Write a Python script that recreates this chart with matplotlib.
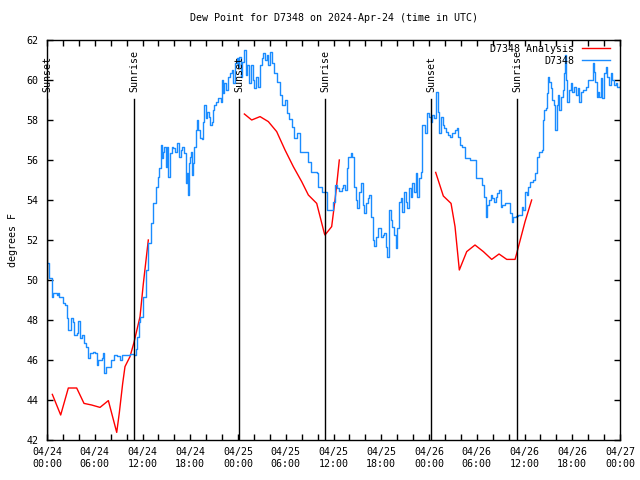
import matplotlib
matplotlib.use("Agg")
import matplotlib.pyplot as plt
import matplotlib.dates as mdates
import pandas as pd

# --------------------------------------------------
# DATA (hours after 2024-04-24 00:00 UTC, degrees F)
# --------------------------------------------------

start = pd.Timestamp("2024-04-24 00:00")

station_hours = [
    0.0, 0.29, 0.59, 0.71, 1.22, 1.43, 1.55, 1.97, 2.26, 2.47, 2.68, 2.97,
    3.22, 3.43, 3.73, 3.94, 4.15, 4.44, 4.65, 4.86, 5.11, 5.4, 5.74, 6.03,
    6.24, 6.45, 6.87, 7.0, 7.2, 7.41, 7.71, 8.0, 8.42, 8.84, 9.17, 9.38,
    9.93, 10.43, 10.93, 11.14, 11.35, 11.52, 11.69, 12.02, 12.44, 12.73,
    13.03, 13.36, 13.66, 13.91, 14.12, 14.33, 14.49, 14.62, 14.75, 14.91,
    15.04, 15.25, 15.46, 15.67, 15.87, 16.08, 16.29, 16.5, 16.63, 16.83,
    17.0, 17.21, 17.42, 17.54, 17.67, 17.83, 17.96, 18.08, 18.26, 18.38,
    18.51, 18.68, 18.81, 19.01, 19.23, 19.52, 19.64, 19.77, 19.94, 20.15,
    20.36, 20.48, 20.69, 20.9, 21.02, 21.2, 21.53, 21.82, 21.99, 22.07,
    22.28, 22.49, 22.7, 22.99, 23.2, 23.41, 23.62, 23.83, 24.04, 24.13,
    24.38, 24.54, 24.8, 24.97, 25.18, 25.38, 25.63, 25.84, 26.05, 26.26,
    26.47, 26.77, 26.98, 27.19, 27.4, 27.61, 27.82, 28.06, 28.31, 28.57,
    28.86, 29.28, 29.57, 29.91, 30.11, 30.45, 30.82, 31.08, 31.37, 31.79,
    32.4, 32.84, 33.17, 33.89, 34.1, 34.52, 34.93, 35.23, 35.56, 35.9,
    36.19, 36.48, 36.73, 37.02, 37.23, 37.44, 37.66, 37.86, 38.2, 38.37,
    38.58, 38.79, 38.99, 39.25, 39.46, 39.67, 39.88, 40.09, 40.3, 40.51,
    40.71, 40.93, 41.13, 41.34, 41.56, 41.77, 41.98, 42.19, 42.4, 42.6,
    42.77, 42.97, 43.18, 43.39, 43.6, 43.81, 44.02, 44.23, 44.44, 44.65,
    44.86, 45.07, 45.28, 45.49, 45.7, 45.91, 46.12, 46.33, 46.53, 46.74,
    46.96, 47.12, 47.5, 47.71, 48.0, 48.25, 48.42, 48.67, 48.88, 49.09,
    49.3, 49.5, 49.72, 49.93, 50.14, 50.43, 50.64, 50.93, 51.27, 51.48,
    51.69, 51.9, 52.19, 52.53, 52.82, 53.15, 53.57, 53.87, 54.33, 54.62,
    54.92, 55.13, 55.33, 55.54, 55.75, 55.96, 56.17, 56.38, 56.59, 56.8,
    57.01, 57.22, 57.55, 57.97, 58.18, 58.39, 58.6, 58.9, 59.23, 59.52,
    59.73, 59.86, 60.07, 60.28, 60.49, 60.7, 61.03, 61.32, 61.53, 61.87,
    62.16, 62.29, 62.45, 62.7, 62.87, 62.99, 63.12, 63.29, 63.5, 63.75,
    63.87, 64.04, 64.25, 64.37, 64.58, 64.79, 64.96, 65.09, 65.21, 65.38,
    65.59, 65.8, 66.01, 66.22, 66.47, 66.68, 66.89, 67.1, 67.4, 67.73,
    68.02, 68.32, 68.57, 68.74, 68.91, 69.07, 69.2, 69.37, 69.58, 69.79,
    70.0, 70.21, 70.42, 70.63, 70.84, 71.05, 71.25, 71.5, 71.67, 72.0,
]

station_dewpoint = [
    50.85, 50.08, 49.17, 49.33, 49.25, 49.33, 49.17, 48.83, 48.75, 48.08, 47.5, 48.08,
    47.92, 47.25, 47.33, 47.97, 47.08, 47.25, 46.83, 46.67, 46.08, 46.33, 46.42, 46.33,
    45.75, 46.0, 46.08, 46.33, 45.33, 45.67, 45.67, 46.0, 46.25, 46.2, 46.0, 46.25,
    46.25, 46.28, 46.25, 46.57, 47.17, 47.92, 48.17, 49.17, 50.5, 51.83,
    52.83, 53.83, 54.67, 55.17, 55.58, 56.75, 56.08, 56.42, 56.67, 55.67,
    56.67, 55.17, 56.33, 56.67, 56.58, 56.42, 56.83, 56.83, 56.17, 56.5,
    56.67, 56.33, 54.83, 55.33, 54.25, 55.83, 56.17, 56.42, 55.25, 55.83,
    56.67, 57.5, 58.0, 57.5, 57.08, 57.03, 57.92, 58.75, 58.08, 58.42,
    58.17, 57.75, 57.92, 58.5, 58.75, 58.92, 59.08, 58.92, 60.0, 59.33,
    59.83, 59.5, 60.17, 60.33, 60.5, 59.83, 60.83, 61.08, 60.67, 61.17,
    60.17, 60.92, 61.5, 60.25, 60.75, 59.83, 60.75, 60.0, 59.58, 60.17,
    59.67, 60.75, 61.08, 61.33, 61.0, 61.25, 60.75, 61.42, 60.83, 60.33,
    59.92, 59.25, 58.75, 59.0, 58.33, 58.03, 57.67, 57.08, 57.33, 56.42,
    56.42, 55.92, 55.42, 55.33, 54.67, 54.42, 54.42, 53.5, 53.5, 53.92,
    54.75, 54.58, 54.47, 54.58, 54.75, 54.5, 55.58, 56.17, 56.33, 56.17,
    54.67, 54.0, 53.58, 54.42, 54.83, 53.75, 53.33, 53.83, 54.08, 54.25,
    53.17, 52.0, 51.7, 52.17, 52.58, 52.58, 52.17, 52.25, 52.33, 51.67,
    51.17, 53.5, 53.0, 52.67, 52.25, 51.58, 52.58, 53.92, 54.08, 53.42,
    54.42, 53.92, 53.58, 54.58, 54.17, 54.83, 54.42, 55.33, 54.17, 55.08,
    55.42, 57.75, 57.33, 58.33, 58.17, 57.92, 58.25, 58.08, 59.42, 58.42,
    57.33, 58.17, 57.75, 57.58, 57.42, 57.25, 57.17, 57.33, 57.5, 57.58,
    57.17, 56.75, 56.67, 56.08, 56.08, 56.0, 56.0, 55.08, 55.08, 54.75,
    54.17, 53.17, 53.75, 54.0, 54.25, 54.08, 53.92, 54.17, 54.33, 54.5,
    53.67, 53.75, 53.83, 53.83, 53.33, 52.92, 53.17, 53.2, 53.25, 53.25,
    53.67, 53.5, 54.42, 54.25, 54.67, 54.92, 55.0, 55.33, 56.17, 56.42,
    56.5, 58.0, 58.5, 58.58, 59.33, 60.17, 59.92, 59.58, 59.0, 58.75,
    57.5, 58.75, 59.25, 58.5, 59.17, 59.5, 60.33, 61.25, 60.0, 58.92,
    59.5, 59.83, 59.42, 59.67, 59.25, 59.58, 58.92, 59.42, 59.5, 59.67,
    60.0, 60.0, 60.83, 60.42, 59.92, 59.17, 59.42, 59.17, 60.08, 59.08,
    60.33, 60.67, 60.17, 59.75, 60.33, 60.0, 59.75, 59.83, 59.67, 59.7,
]

# analysis runs in three separate pieces
analysis_hours = [
    [0.67, 1.72, 2.68, 3.73, 4.65, 5.61, 6.66, 7.71, 8.76, 9.09, 9.51,
     9.80, 10.43, 10.93, 11.69, 12.1, 12.73],
    [24.8, 25.72, 26.77, 27.81, 28.86, 29.91, 30.95, 32.0, 32.84, 33.89,
     34.85, 34.93, 35.77, 36.19, 36.4, 36.73],
    [48.84, 49.8, 50.77, 51.27, 51.81, 52.74, 53.78, 54.83, 55.88, 56.8,
     57.77, 58.81, 59.02, 60.07, 60.9],
]

analysis_dewpoint = [
    [44.28, 43.25, 44.6, 44.6, 43.83, 43.75, 43.63, 43.97, 42.38, 43.37,
     44.83, 45.67, 46.17, 46.88, 48.17, 49.8, 52.0],
    [58.3, 58.0, 58.17, 57.92, 57.42, 56.5, 55.67, 54.92, 54.25, 53.83,
     52.33, 52.25, 52.67, 54.0, 54.75, 56.0],
    [55.38, 54.2, 53.83, 52.67, 50.5, 51.42, 51.75, 51.42, 51.03, 51.3,
     51.03, 51.03, 51.33, 52.92, 54.0],
]

sun_events = ["Sunset", "Sunrise", "Sunset", "Sunrise", "Sunset", "Sunrise"]
sun_hours = [0.05, 10.95, 24.15, 34.95, 48.3, 59.05]


def to_time(hours):
    return start + pd.to_timedelta(hours, unit="h")


# --------------------------------------------------
# FIGURE
# --------------------------------------------------

plt.rcParams["font.family"] = "DejaVu Sans Mono"
plt.rcParams["font.size"] = 7.2

fig = plt.figure(figsize=(6.4, 4.8), dpi=100)
ax = fig.add_axes([47 / 640, 40 / 480, 573 / 640, 400 / 480])

for i, (hh, vv) in enumerate(zip(analysis_hours, analysis_dewpoint)):
    ax.plot(
        to_time(hh), vv,
        color="#ff0000", lw=1.0,
        label="D7348 Analysis" if i == 0 else None,
    )

ax.plot(
    to_time(station_hours), station_dewpoint,
    color="#1a8cff", lw=1.0, drawstyle="steps-post",
    label="D7348",
)

for name, h in zip(sun_events, sun_hours):
    t = to_time(h)
    ax.axvline(t, ymin=0, ymax=0.8525, color="black", lw=1.0)
    ax.text(
        t, 59.4, name,
        rotation=90, ha="center", va="bottom",
    )

ax.set_xlim(to_time(0), to_time(72))
ax.set_ylim(42, 62)
ax.set_yticks(range(42, 63, 2))

ax.xaxis.set_major_locator(mdates.HourLocator(byhour=range(0, 24, 6)))
ax.xaxis.set_minor_locator(mdates.HourLocator(byhour=range(0, 24, 2)))
ax.xaxis.set_major_formatter(mdates.DateFormatter("%m/%d\n%H:%M"))

ax.tick_params(which="both", direction="in", top=True, right=True,
               length=4, width=1.0)
ax.tick_params(axis="x", which="major", pad=5)
ax.tick_params(axis="y", which="major", pad=6)
for s in ax.spines.values():
    s.set_linewidth(1.0)

ax.set_title("Dew Point for D7348 on 2024-Apr-24 (time in UTC)",
             fontsize=7.2, pad=14)
ax.set_ylabel("degrees F", labelpad=6)

ax.legend(
    loc="upper right",
    bbox_to_anchor=(0.9825, 0.99),
    markerfirst=False,
    frameon=False,
    borderpad=0,
    borderaxespad=0,
    handlelength=2.8,
    handletextpad=0.8,
    labelspacing=0.2,
)

fig.savefig("out.png", dpi=100)
plt.close(fig)
